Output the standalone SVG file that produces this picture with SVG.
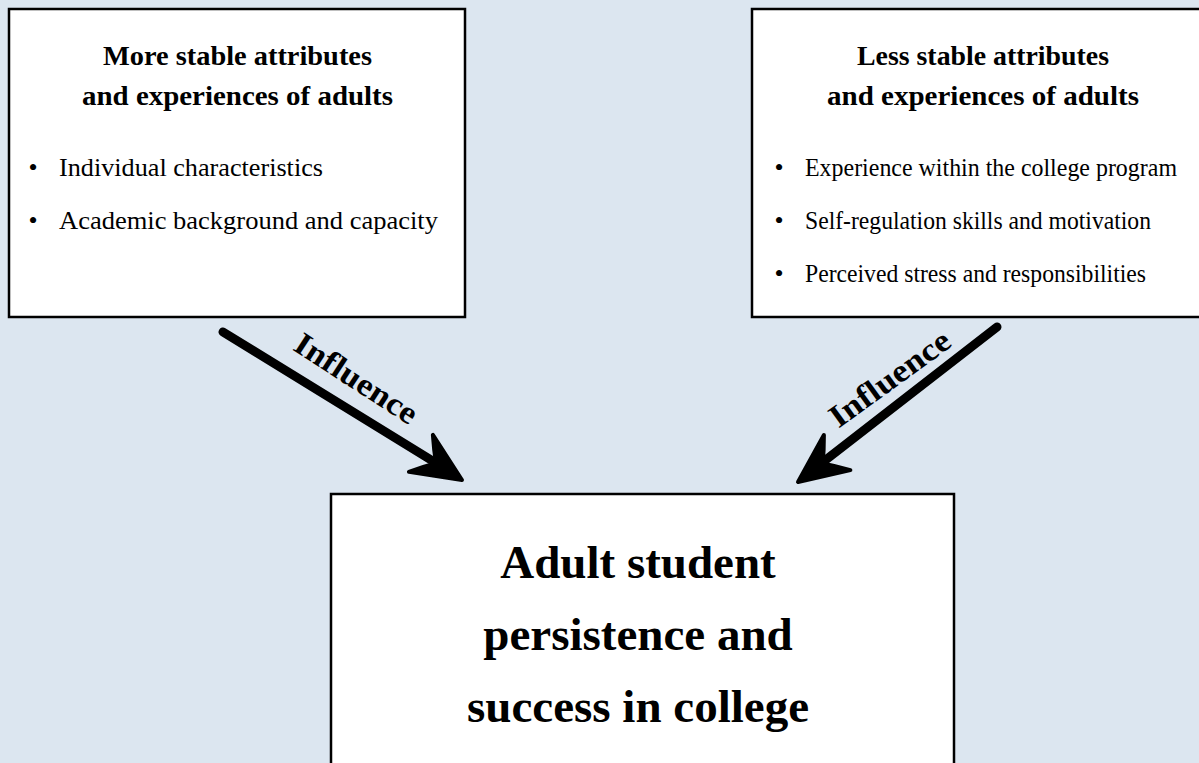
<svg xmlns="http://www.w3.org/2000/svg" xmlns:xlink="http://www.w3.org/1999/xlink" width="1199" height="763" viewBox="0 0 1199 763">
<style>
.box{fill:#ffffff;stroke:#000000;stroke-width:2.5}
.title{font-family:"Liberation Serif","Times New Roman",serif;font-weight:bold;font-size:28px;fill:#000;text-anchor:middle}
.body{font-family:"Liberation Serif","Times New Roman",serif;font-size:26px;fill:#000}
.bullet{font-family:"Liberation Serif","Times New Roman",serif;font-size:26px;fill:#000;text-anchor:middle}
.big{font-family:"Liberation Serif","Times New Roman",serif;font-weight:bold;font-size:47px;fill:#000;text-anchor:middle}
.lbl{font-family:"Liberation Serif","Times New Roman",serif;font-weight:bold;font-size:32px;fill:#000;text-anchor:middle}
.shaft{stroke:#000;stroke-width:9;stroke-linecap:round;fill:none}
.head{fill:#000;stroke:#000;stroke-width:4;stroke-linejoin:round}
</style>
<defs>
<path id="head" d="M0,0 L-49,-22 Q-40,-10 -31,0 Q-40,10 -49,22 Z"/>
</defs>
<rect width="1199" height="763" fill="#dce6f0"/>

<g id="node-more-stable">
<rect class="box" x="9" y="9" width="456" height="308"/>
<text class="title" x="237.5" y="65" textLength="269" lengthAdjust="spacingAndGlyphs">More stable attributes</text>
<text class="title" x="237.5" y="105" textLength="311" lengthAdjust="spacingAndGlyphs">and experiences of adults</text>
<text class="bullet" x="33" y="176">•</text>
<text class="body" x="59" y="176" textLength="264" lengthAdjust="spacingAndGlyphs">Individual characteristics</text>
<text class="bullet" x="33" y="229">•</text>
<text class="body" x="59" y="229" textLength="379" lengthAdjust="spacingAndGlyphs">Academic background and capacity</text>
</g>

<g id="node-less-stable">
<rect class="box" x="752" y="9" width="470" height="308"/>
<text class="title" x="983" y="65" textLength="252" lengthAdjust="spacingAndGlyphs">Less stable attributes</text>
<text class="title" x="983" y="105" textLength="312" lengthAdjust="spacingAndGlyphs">and experiences of adults</text>
<text class="bullet" x="779" y="176">•</text>
<text class="body" x="805" y="176" textLength="372" lengthAdjust="spacingAndGlyphs">Experience within the college program</text>
<text class="bullet" x="779" y="229">•</text>
<text class="body" x="805" y="229" textLength="346" lengthAdjust="spacingAndGlyphs">Self-regulation skills and motivation</text>
<text class="bullet" x="779" y="282">•</text>
<text class="body" x="805" y="282" textLength="341" lengthAdjust="spacingAndGlyphs">Perceived stress and responsibilities</text>
</g>

<g id="node-outcome">
<rect class="box" x="331" y="494" width="623" height="300"/>
<text class="big" x="638" y="578">Adult student</text>
<text class="big" x="638" y="650">persistence and</text>
<text class="big" x="638" y="722">success in college</text>
</g>

<g id="connectors">
<g id="edge-left">
<line class="shaft" x1="223" y1="332" x2="436" y2="463"/>
<use xlink:href="#head" class="head" transform="translate(462,480) rotate(33)"/>
<text class="lbl" transform="translate(356,379) rotate(33)" y="10" textLength="140" lengthAdjust="spacingAndGlyphs">Influence</text>
</g>
<g id="edge-right">
<line class="shaft" x1="997" y1="327" x2="823" y2="462"/>
<use xlink:href="#head" class="head" transform="translate(798,482) rotate(143)"/>
<text class="lbl" transform="translate(890,379) rotate(-36)" y="10" textLength="142" lengthAdjust="spacingAndGlyphs">Influence</text>
</g>
</g>
</svg>
